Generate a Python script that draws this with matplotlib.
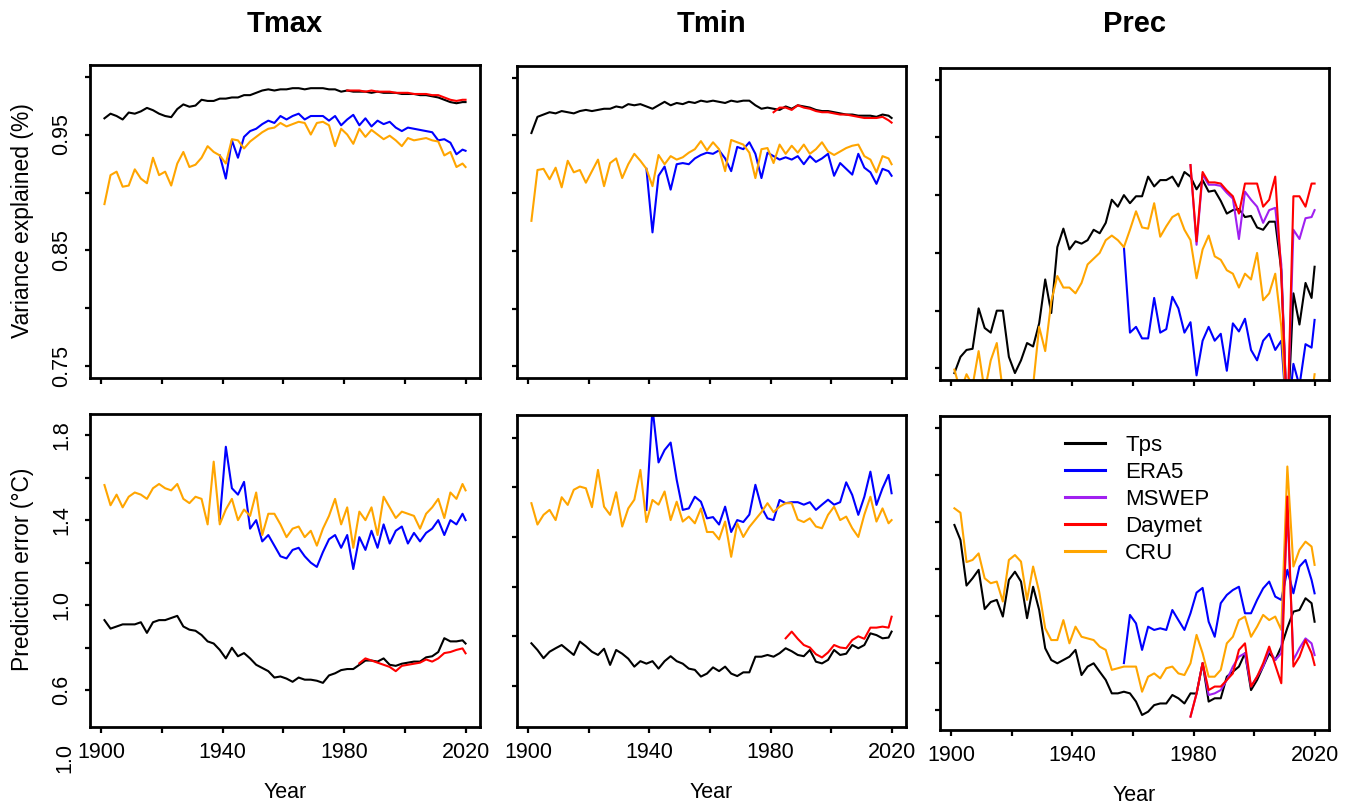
import matplotlib
matplotlib.use("Agg")
import matplotlib.pyplot as plt
from matplotlib.lines import Line2D

plt.rcParams["font.family"] = ["Liberation Sans", "DejaVu Sans"]

# ============================================================
# FIGURE
# ============================================================

W, H = 1354, 805
DPI = 100
XLIM = (1896.24, 2024.76)

# every second year, plus the last year
YEARS = list(range(1901, 2020, 2)) + [2020]


def years_from(start):
    return [y for y in YEARS if y >= start]


# ============================================================
# DATA - Tmax
# ============================================================

TMAX_VAR_TPS = [
    .964, .968, .966, .963, .969, .968, .970, .973, .971, .968,
    .966, .965, .972, .976, .974, .975, .980, .979, .979, .981,
    .981, .982, .982, .984, .984, .986, .988, .989, .988, .989,
    .989, .990, .990, .989, .990, .990, .990, .989, .989, .987,
    .988, .987, .987, .987, .986, .987, .986, .986, .986, .985,
    .985, .985, .984, .984, .983, .982, .980, .978, .977, .978,
    .978]
TMAX_VAR_ERA5 = [
    .932, .912, .945, .930, .948, .953, .955, .959, .962, .960,
    .966, .963, .966, .968, .963, .966, .966, .966, .962, .966,
    .958, .963, .967, .958, .964, .957, .962, .959, .961, .956,
    .953, .956, .955, .954, .953, .952, .945, .946, .943, .933,
    .937, .936]
TMAX_VAR_DAYMET = [
    .988, .988, .988, .987, .988, .987, .987, .987, .986, .986,
    .986, .985, .985, .985, .984, .984, .982, .980, .979, .980,
    .980]
TMAX_VAR_CRU = [
    .890, .915, .918, .905, .906, .920, .912, .908, .930, .915,
    .918, .906, .925, .935, .922, .924, .930, .940, .935, .932,
    .925, .946, .945, .938, .944, .948, .952, .955, .956, .960,
    .957, .959, .961, .960, .950, .960, .961, .958, .940, .955,
    .950, .942, .955, .948, .954, .950, .946, .949, .945, .940,
    .947, .945, .946, .947, .945, .944, .932, .935, .922, .925,
    .922]

TMAX_ERR_TPS = [
    .93, .89, .90, .91, .91, .91, .92, .87, .92, .93,
    .93, .94, .95, .90, .885, .88, .86, .83, .82, .79,
    .75, .80, .76, .775, .75, .72, .705, .69, .66, .665,
    .655, .64, .66, .65, .65, .645, .635, .67, .68, .695,
    .70, .70, .72, .74, .74, .735, .75, .72, .715, .725,
    .73, .735, .735, .755, .76, .78, .845, .83, .83, .835,
    .82]
TMAX_ERR_ERA5 = [
    1.40, 1.745, 1.55, 1.52, 1.58, 1.36, 1.40, 1.30, 1.33, 1.28,
    1.23, 1.22, 1.26, 1.27, 1.23, 1.20, 1.18, 1.25, 1.31, 1.33,
    1.27, 1.33, 1.17, 1.32, 1.26, 1.35, 1.27, 1.38, 1.29, 1.35,
    1.37, 1.29, 1.34, 1.30, 1.34, 1.36, 1.40, 1.33, 1.40, 1.38,
    1.43, 1.40]
TMAX_ERR_DAYMET = [
    .727, .75, .74, .73, .72, .71, .69, .715, .72, .725,
    .73, .745, .735, .75, .775, .78, .79, .797, .774]
TMAX_ERR_CRU = [
    1.565, 1.47, 1.52, 1.46, 1.51, 1.53, 1.52, 1.50, 1.55, 1.57,
    1.55, 1.54, 1.57, 1.50, 1.48, 1.51, 1.50, 1.38, 1.675, 1.38,
    1.45, 1.50, 1.40, 1.45, 1.42, 1.53, 1.33, 1.43, 1.43, 1.38,
    1.32, 1.36, 1.37, 1.32, 1.35, 1.28, 1.36, 1.42, 1.50, 1.38,
    1.46, 1.27, 1.44, 1.40, 1.46, 1.33, 1.51, 1.46, 1.41, 1.44,
    1.43, 1.42, 1.36, 1.43, 1.46, 1.50, 1.41, 1.53, 1.50, 1.57,
    1.54]

# ============================================================
# DATA - Tmin
# ============================================================

TMIN_VAR_TPS = [
    .952, .966, .968, .970, .969, .971, .970, .969, .971, .972,
    .971, .972, .973, .973, .975, .974, .977, .976, .977, .975,
    .973, .976, .979, .976, .978, .977, .979, .978, .980, .979,
    .980, .979, .978, .980, .979, .980, .980, .976, .973, .974,
    .973, .972, .975, .973, .976, .975, .974, .972, .971, .971,
    .970, .969, .968, .968, .967, .967, .967, .966, .968, .967,
    .965]
TMIN_VAR_ERA5 = [
    .921, .866, .915, .923, .903, .925, .926, .925, .930, .933,
    .935, .934, .937, .930, .919, .940, .938, .944, .934, .913,
    .935, .932, .929, .931, .929, .932, .925, .932, .927, .930,
    .934, .915, .926, .921, .916, .934, .922, .918, .908, .921,
    .919, .915]
TMIN_VAR_DAYMET = [
    .970, .974, .974, .972, .976, .974, .973, .971, .970, .970,
    .969, .968, .968, .967, .966, .965, .965, .965, .966, .963,
    .961]
TMIN_VAR_CRU = [
    .876, .920, .921, .912, .922, .905, .928, .918, .920, .909,
    .919, .929, .906, .926, .930, .913, .925, .934, .928, .921,
    .906, .933, .925, .932, .929, .931, .935, .938, .945, .937,
    .944, .938, .919, .946, .944, .942, .935, .913, .938, .939,
    .926, .942, .934, .941, .935, .942, .934, .938, .944, .936,
    .933, .936, .939, .941, .942, .932, .929, .918, .932, .930,
    .925]

TMIN_ERR_TPS = [
    .772, .745, .712, .738, .752, .765, .745, .725, .779, .760,
    .738, .725, .750, .685, .745, .730, .710, .678, .700, .690,
    .700, .670, .700, .720, .700, .690, .670, .665, .638, .650,
    .675, .660, .678, .650, .640, .655, .655, .718, .718, .725,
    .718, .732, .752, .740, .725, .720, .745, .698, .691, .705,
    .745, .725, .730, .765, .752, .765, .812, .805, .792, .795,
    .819]
TMIN_ERR_ERA5 = [
    1.309, 1.72, 1.50, 1.55, 1.58, 1.43, 1.309, 1.315, 1.362, 1.342,
    1.275, 1.28, 1.25, 1.322, 1.22, 1.268, 1.26, 1.29, 1.41, 1.32,
    1.275, 1.268, 1.349, 1.336, 1.34, 1.34, 1.33, 1.34, 1.309, 1.33,
    1.35, 1.33, 1.34, 1.42, 1.369, 1.289, 1.362, 1.463, 1.329, 1.396,
    1.45, 1.376]
TMIN_ERR_DAYMET = [
    .792, .819, .790, .765, .755, .728, .715, .735, .765, .755,
    .752, .785, .800, .790, .835, .835, .839, .835, .879]
TMIN_ERR_CRU = [
    1.336, 1.25, 1.289, 1.309, 1.268, 1.36, 1.329, 1.39, 1.403, 1.396,
    1.32, 1.47, 1.322, 1.289, 1.38, 1.242, 1.315, 1.35, 1.47, 1.26,
    1.349, 1.33, 1.383, 1.268, 1.342, 1.262, 1.282, 1.255, 1.315, 1.22,
    1.22, 1.19, 1.262, 1.12, 1.255, 1.20, 1.24, 1.27, 1.30, 1.336,
    1.30, 1.322, 1.336, 1.336, 1.27, 1.26, 1.275, 1.242, 1.235, 1.289,
    1.322, 1.268, 1.282, 1.235, 1.20, 1.29, 1.362, 1.262, 1.315, 1.255,
    1.268]

# ============================================================
# DATA - Prec
# ============================================================

PREC_VAR_TPS = [
    .746, .760, .766, .767, .802, .785, .781, .800, .800, .760,
    .746, .757, .772, .769, .789, .827, .798, .855, .871, .853,
    .860, .858, .861, .870, .867, .876, .896, .890, .900, .893,
    .899, .899, .916, .9075, .913, .913, .916, .9075, .920, .916,
    .905, .913, .903, .904, .895, .884, .887, .888, .881, .882,
    .872, .870, .877, .877, .835, .700, .815, .788, .824, .811,
    .838]
PREC_VAR_ERA5 = [
    .855, .781, .786, .776, .776, .811, .781, .784, .812, .802,
    .781, .790, .744, .774, .786, .774, .780, .748, .789, .782,
    .793, .766, .757, .774, .780, .766, .774, .700, .754, .735,
    .771, .768, .792]
PREC_VAR_MSWEP = [
    .926, .857, .918, .909, .909, .908, .902, .897, .862, .903,
    .896, .890, .876, .887, .889, .840, .700, .870, .862, .880,
    .881, .887]
PREC_VAR_DAYMET = [
    .926, .860, .920, .911, .911, .910, .904, .899, .884, .910,
    .910, .910, .890, .896, .916, .830, .700, .899, .899, .890,
    .910, .910]
PREC_VAR_CRU = [
    .749, .730, .745, .735, .765, .730, .757, .772, .730, .725,
    .725, .720, .725, .735, .786, .765, .808, .830, .820, .820,
    .815, .824, .840, .845, .850, .861, .865, .861, .855, .870,
    .886, .872, .871, .893, .864, .873, .881, .884, .870, .861,
    .828, .853, .865, .847, .844, .835, .832, .820, .832, .827,
    .850, .809, .815, .832, .786, .700, .720, .720, .725, .725,
    .745]

PREC_ERR_TPS = [
    1.188, 1.124, 0.93, 0.961, 0.997, 0.83, 0.86, 0.869, 0.798, 0.954,
    0.989, 0.947, 0.791, 0.925, 0.826, 0.663, 0.613, 0.599, 0.613, 0.627,
    0.656, 0.549, 0.585, 0.599, 0.563, 0.528, 0.471, 0.471, 0.478, 0.471,
    0.436, 0.379, 0.393, 0.421, 0.428, 0.428, 0.464, 0.45, 0.428, 0.471,
    0.47, 0.60, 0.436, 0.45, 0.45, 0.542, 0.563, 0.585, 0.642, 0.485,
    0.528, 0.585, 0.642, 0.613, 0.67, 0.75, 0.819, 0.826, 0.876, 0.855,
    0.776]
PREC_ERR_ERA5 = [
    0.60, 0.805, 0.769, 0.656, 0.755, 0.741, 0.748, 0.741, 0.826, 0.783,
    0.741, 0.812, 0.90, 0.92, 0.776, 0.712, 0.855, 0.89, 0.911, 0.925,
    0.812, 0.812, 0.869, 0.918, 0.947, 0.883, 0.869, 0.997, 0.897, 1.011,
    1.039, 0.954, 0.897]
PREC_ERR_MSWEP = [
    0.372, 0.47, 0.60, 0.464, 0.471, 0.485, 0.528, 0.585, 0.627, 0.642,
    0.50, 0.542, 0.585, 0.656, 0.613, 0.642, 1.25, 0.613, 0.663, 0.705,
    0.684, 0.634]
PREC_ERR_DAYMET = [
    0.372, 0.47, 0.60, 0.485, 0.50, 0.50, 0.528, 0.556, 0.656, 0.684,
    0.50, 0.542, 0.599, 0.67, 0.592, 0.514, 1.309, 0.585, 0.627, 0.698,
    0.642, 0.592]
PREC_ERR_CRU = [
    1.259, 1.24, 1.03, 1.039, 1.067, 0.961, 0.94, 0.947, 0.862, 1.039,
    1.06, 1.032, 0.869, 1.011, 0.904, 0.748, 0.698, 0.698, 0.783, 0.684,
    0.755, 0.712, 0.705, 0.698, 0.67, 0.656, 0.571, 0.578, 0.585, 0.585,
    0.585, 0.478, 0.542, 0.556, 0.535, 0.578, 0.585, 0.556, 0.549, 0.599,
    0.72, 0.642, 0.542, 0.542, 0.571, 0.684, 0.712, 0.783, 0.798, 0.712,
    0.755, 0.805, 0.783, 0.798, 0.741, 1.437, 1.011, 1.082, 1.117, 1.096,
    1.018]

# ============================================================
# STYLE
# ============================================================

COLORS = {
    "Tps": "#000000",
    "ERA5": "#0000FF",
    "MSWEP": "#A020F0",
    "Daymet": "#FF0000",
    "CRU": "#FFA500",
}
DRAW_ORDER = ["Tps", "ERA5", "CRU", "MSWEP", "Daymet"]
LEGEND_ORDER = ["Tps", "ERA5", "MSWEP", "Daymet", "CRU"]
LINE_WIDTH = 1.5
TICK_SIZE = 15.5
LABEL_SIZE = 16.5

VAR_TICKS = [0.75, 0.80, 0.85, 0.90, 0.95, 1.00]
VAR_LABELS = ["0.75", "", "0.85", "", "0.95", ""]
ERR_TICKS = [0.6, 0.8, 1.0, 1.2, 1.4, 1.6, 1.8]
ERR_LABELS = ["0.6", "", "1.0", "", "1.4", "", "1.8"]
TMIN_ERR_TICKS = [0.6, 0.8, 1.0, 1.2, 1.4, 1.6]
PREC_ERR_TICKS = [0.4, 0.6, 0.8, 1.0, 1.2, 1.4, 1.6]

# panels: title, pixel box (x0, y0, x1, y1), series, ylim, yticks, ylabels
PANELS = [
    ("Tmax", (90, 65, 480, 378),
     {"Tps": (1901, TMAX_VAR_TPS), "ERA5": (1939, TMAX_VAR_ERA5),
      "CRU": (1901, TMAX_VAR_CRU), "Daymet": (1981, TMAX_VAR_DAYMET)},
     (0.74, 1.01), VAR_TICKS, VAR_LABELS),
    ("Tmin", (517, 66, 906, 378),
     {"Tps": (1901, TMIN_VAR_TPS), "ERA5": (1939, TMIN_VAR_ERA5),
      "CRU": (1901, TMIN_VAR_CRU), "Daymet": (1981, TMIN_VAR_DAYMET)},
     (0.74, 1.01), VAR_TICKS, None),
    ("Prec", (940, 68, 1329, 380),
     {"Tps": (1901, PREC_VAR_TPS), "ERA5": (1957, PREC_VAR_ERA5),
      "CRU": (1901, PREC_VAR_CRU), "MSWEP": (1979, PREC_VAR_MSWEP),
      "Daymet": (1979, PREC_VAR_DAYMET)},
     (0.74, 1.01), VAR_TICKS, None),
    (None, (90, 414, 480, 727),
     {"Tps": (1901, TMAX_ERR_TPS), "ERA5": (1939, TMAX_ERR_ERA5),
      "CRU": (1901, TMAX_ERR_CRU), "Daymet": (1985, TMAX_ERR_DAYMET)},
     (0.4275, 1.899), ERR_TICKS, ERR_LABELS),
    (None, (517, 415, 906, 727),
     {"Tps": (1901, TMIN_ERR_TPS), "ERA5": (1939, TMIN_ERR_ERA5),
      "CRU": (1901, TMIN_ERR_CRU), "Daymet": (1985, TMIN_ERR_DAYMET)},
     (0.435, 1.691), TMIN_ERR_TICKS, None),
    (None, (940, 416, 1329, 730),
     {"Tps": (1901, PREC_ERR_TPS), "ERA5": (1957, PREC_ERR_ERA5),
      "CRU": (1901, PREC_ERR_CRU), "MSWEP": (1979, PREC_ERR_MSWEP),
      "Daymet": (1979, PREC_ERR_DAYMET)},
     (0.315, 1.652), PREC_ERR_TICKS, None),
]


def add_panel(fig, box):
    x0, y0, x1, y1 = box
    return fig.add_axes([x0 / W, 1 - y1 / H, (x1 - x0) / W, (y1 - y0) / H])


def setup_axis(ax, ylim, yticks, ylabels, bottom):
    ax.set_xlim(*XLIM)
    ax.set_ylim(*ylim)
    ax.set_xticks(range(1900, 2021, 20))
    if bottom:
        ax.set_xticklabels(["1900", "", "1940", "", "1980", "", "2020"])
    else:
        ax.set_xticklabels([])
    ax.set_yticks(yticks)
    if ylabels is None:
        ax.set_yticklabels([])
    else:
        ax.set_yticklabels(ylabels)
        for lab in ax.get_yticklabels():
            lab.set_rotation(90)
            lab.set_va("center")
            lab.set_ha("right")
    ax.tick_params(axis="x", direction="out", length=4.2, width=1.6,
                   labelsize=TICK_SIZE, pad=6.5)
    ax.tick_params(axis="y", direction="out", length=3.8, width=1.6,
                   labelsize=TICK_SIZE, pad=9)
    for sp in ax.spines.values():
        sp.set_linewidth(2.0)


# ============================================================
# MAIN
# ============================================================

def main():
    fig = plt.figure(figsize=(W / DPI, H / DPI), dpi=DPI)

    for i, (title, box, series, ylim, yticks, ylabels) in enumerate(PANELS):
        ax = add_panel(fig, box)
        bottom = i >= 3

        for name in DRAW_ORDER:
            if name not in series:
                continue
            start, values = series[name]
            yrs = years_from(start)
            assert len(yrs) == len(values), (title, i, name, len(values))
            ax.plot(yrs, values, color=COLORS[name], lw=LINE_WIDTH,
                    solid_joinstyle="round")

        setup_axis(ax, ylim, yticks, ylabels, bottom)

        cx = (box[0] + box[2]) / 2
        if title:
            fig.text(cx / W, 1 - 24 / H, title, fontsize=21,
                     fontweight="bold", ha="center", va="center")
        if bottom:
            fig.text(cx / W, 1 - (box[3] + 65) / H, "Year",
                     fontsize=TICK_SIZE, ha="center", va="center")

        if i == 5:
            handles = [Line2D([], [], color=COLORS[n], lw=2.2)
                       for n in LEGEND_ORDER]
            ax.legend(handles, LEGEND_ORDER, loc="upper left",
                      bbox_to_anchor=((1065 - 940) / 389, 1 - (435 - 416) / 314),
                      frameon=False, fontsize=16, handlelength=1.8,
                      handletextpad=0.9, labelspacing=0.27,
                      borderpad=0, borderaxespad=0)

    fig.text(23 / W, 1 - 221 / H, "Variance explained (%)", rotation=90,
             fontsize=LABEL_SIZE, ha="center", va="center")
    fig.text(23 / W, 1 - 569 / H, "Prediction error (\u00b0C)", rotation=90,
             fontsize=LABEL_SIZE, ha="center", va="center")
    # stray tick label under the first panel
    fig.text(65 / W, 1 - 758 / H, "1.0", rotation=90,
             fontsize=TICK_SIZE, ha="center", va="center")

    fig.savefig("out.png", dpi=DPI)
    plt.close(fig)


if __name__ == "__main__":
    main()
